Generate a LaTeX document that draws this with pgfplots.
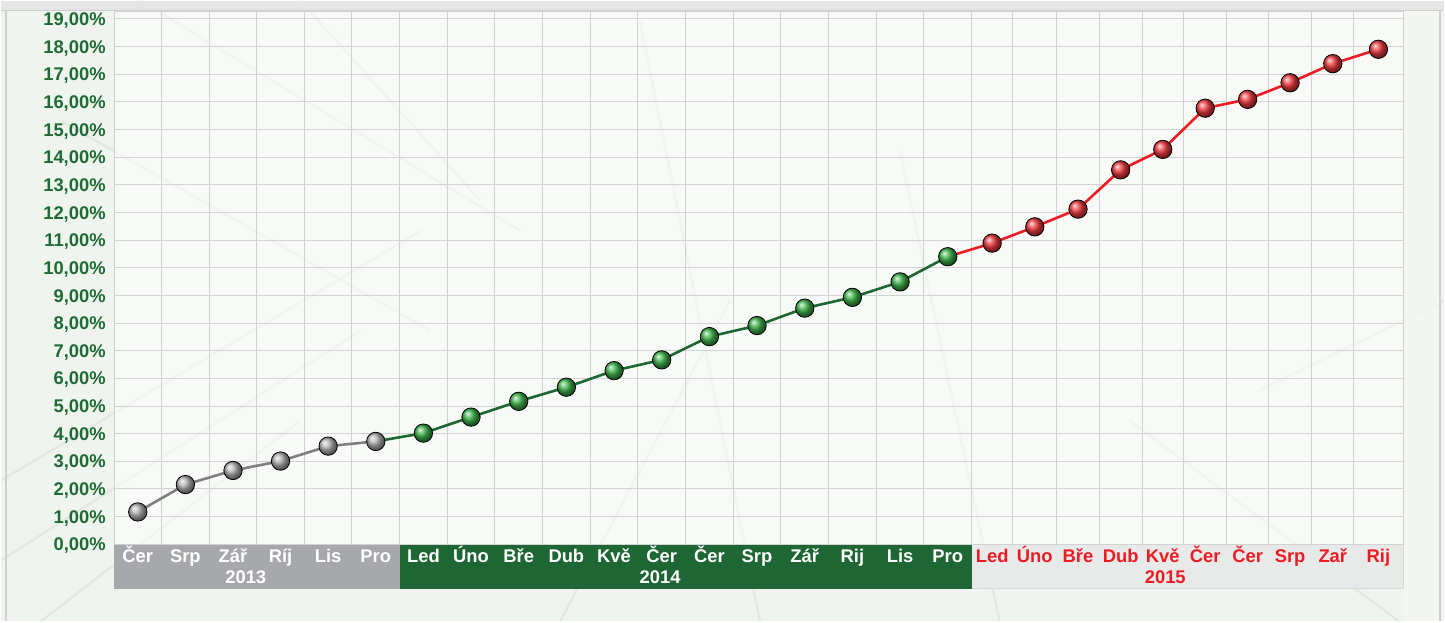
\documentclass[border=0pt]{standalone}
\usepackage{pgfplots}
\pgfplotsset{compat=1.18}
\usepackage{fontspec}
\setmainfont{Liberation Sans}
\definecolor{bgc}{HTML}{F0F4EE}
\definecolor{gridc}{HTML}{D2D2D2}
\definecolor{lblgreen}{HTML}{1E6B36}
\definecolor{bandgray}{HTML}{A7A8AC}
\definecolor{bandgreen}{HTML}{1E6633}
\definecolor{bandlight}{HTML}{E8E9E9}
\definecolor{linegray}{HTML}{7F7F7F}
\definecolor{linegreen}{HTML}{1E6633}
\definecolor{linered}{HTML}{ED1C24}
\definecolor{ballgray}{HTML}{B4B4B4}
\definecolor{ballgreen}{HTML}{3DB34A}
\definecolor{ballred}{HTML}{F03A3F}
\definecolor{texc}{HTML}{D9DFD6}
\definecolor{topstrip}{HTML}{E4E5E4}
\definecolor{framec}{HTML}{CFCFCF}
\definecolor{rightpane}{HTML}{F6F8F5}
\definecolor{bandedge}{HTML}{D6D6D6}
\begin{document}
\begin{tikzpicture}
\begin{scope}[x=0.5pt,y=-0.5pt,shift={(0pt,310.5pt)}]
  \fill[bgc] (0,0) rectangle (1445,621);
  % faint background texture
  \begin{scope}[draw=texc, line width=1.2pt, opacity=0.55]
    \draw (140,0) -- (520,230);
    \draw (60,120) -- (430,330);
    \draw (0,480) -- (420,230);
    \draw (0,560) -- (360,330);
    \draw (300,0) -- (480,200);
    \draw (640,20) -- (760,621);
    \draw (730,300) -- (560,621);
    \draw (900,150) -- (1000,621);
    \draw (1260,390) -- (1445,300);
    \draw (1130,420) -- (1400,621);
    \draw (40,621) -- (300,420);
  \end{scope}
  \fill[topstrip] (0,0) rectangle (1445,9);
  \draw[framec, line width=0.6pt] (0,9) -- (1445,9);
  \draw[framec, line width=0.8pt] (5,9) -- (5,621);
  \fill[rightpane, opacity=0.7] (1405,10) rectangle (1441,621);
  \draw[framec, line width=0.8pt] (1441,9) -- (1441,621);
  % category bands
  \fill[bandgray] (113,544) rectangle (399,588.3);
  \fill[bandgreen] (399,544) rectangle (972,588.3);
  \fill[bandlight] (972,544) rectangle (1405,588.3);
  \draw[bandedge, line width=0.5pt] (972,588.3) -- (1405,588.3) -- (1405,544);
\end{scope}
\begin{axis}[
  at={(56.5pt,38.5pt)}, anchor=south west,
  scale only axis, width=646pt, height=267pt,
  xmin=113, xmax=1405, ymin=0, ymax=19.278,
  clip=false,
  axis background/.style={fill=white, fill opacity=0.55},
  axis line style={draw=gridc, line width=0.5pt},
  grid style={draw=gridc, line width=0.5pt},
  minor grid style={draw=gridc, line width=0.5pt},
  ymajorgrids, xminorgrids,
  major tick length=0pt, minor tick length=0pt,
  tick style={draw=none},
  ytick={0,1,...,19},
  yticklabel={\pgfmathprintnumber[fixed,fixed zerofill,precision=2,use comma,assume math mode=true]{\tick}\%},
  tick label style={font=\fontsize{9.2pt}{11pt}\selectfont\bfseries, inner sep=0pt},
  yticklabel style={text=lblgreen, anchor=base east, xshift=-4pt, yshift=-3.3pt},
  xticklabel style={anchor=base, yshift=-9pt},
  xtick={136.8,184.5,232.2,279.8,327.5,375.2,
         422.9,470.6,518.4,566.1,613.9,661.6,709.4,757.1,804.9,852.6,900.4,948.1,
         992.6,1035.3,1078.6,1121.3,1163.5,1206,1248.5,1291,1333.8,1379.5},
  xticklabels={\textcolor{white}{Čer},\textcolor{white}{Srp},\textcolor{white}{Zář},\textcolor{white}{Ríj},\textcolor{white}{Lis},\textcolor{white}{Pro},
    \textcolor{white}{Led},\textcolor{white}{Úno},\textcolor{white}{Bře},\textcolor{white}{Dub},\textcolor{white}{Kvě},\textcolor{white}{Čer},\textcolor{white}{Čer},\textcolor{white}{Srp},\textcolor{white}{Zář},\textcolor{white}{Rij},\textcolor{white}{Lis},\textcolor{white}{Pro},
    \textcolor{linered}{Led},\textcolor{linered}{Úno},\textcolor{linered}{Bře},\textcolor{linered}{Dub},\textcolor{linered}{Kvě},\textcolor{linered}{Čer},\textcolor{linered}{Čer},\textcolor{linered}{Srp},\textcolor{linered}{Zař},\textcolor{linered}{Rij}},
  minor xtick={160.7,208.3,256,303.7,351.3,399,446.7,494.5,542.2,590,637.7,685.5,733.2,781,828.7,876.5,924.2,972,1013.3,1057.3,1100,1142.7,1184.3,1227.7,1269.3,1312.7,1355},
]
\node[font=\fontsize{9.2pt}{11pt}\selectfont\bfseries, text=white, anchor=base, inner sep=0pt] at (axis cs:245,-1.42) {2013};
\node[font=\fontsize{9.2pt}{11pt}\selectfont\bfseries, text=white, anchor=base, inner sep=0pt] at (axis cs:660,-1.42) {2014};
\node[font=\fontsize{9.2pt}{11pt}\selectfont\bfseries, text=linered, anchor=base, inner sep=0pt] at (axis cs:1166,-1.42) {2015};
% lines
\addplot[linegray, line width=1.3pt] coordinates {
(136.8,1.17) (184.5,2.16) (232.2,2.67) (279.8,3.01) (327.5,3.55) (375.2,3.72)};
\addplot[linegreen, line width=1.3pt] coordinates {
(375.2,3.72) (422.9,4.02) (470.6,4.60) (518.4,5.17) (566.1,5.68) (613.9,6.28) (661.6,6.67)
(709.4,7.51) (757.1,7.91) (804.9,8.54) (852.6,8.93) (900.4,9.49) (948.1,10.40)};
\addplot[linered, line width=1.3pt] coordinates {
(948.1,10.40) (992.6,10.89) (1035.3,11.48) (1078.6,12.12) (1121.3,13.54) (1163.5,14.28)
(1206,15.77) (1248.5,16.09) (1291,16.69) (1333.8,17.38) (1379.5,17.90)};
% markers
\addplot[only marks, mark=ball, mark size=4.6pt, mark options={ball color=ballgray}] coordinates {
(136.8,1.17) (184.5,2.16) (232.2,2.67) (279.8,3.01) (327.5,3.55) (375.2,3.72)};
\addplot[only marks, mark=ball, mark size=4.6pt, mark options={ball color=ballgreen}] coordinates {
(422.9,4.02) (470.6,4.60) (518.4,5.17) (566.1,5.68) (613.9,6.28) (661.6,6.67)
(709.4,7.51) (757.1,7.91) (804.9,8.54) (852.6,8.93) (900.4,9.49) (948.1,10.40)};
\addplot[only marks, mark=ball, mark size=4.6pt, mark options={ball color=ballred}] coordinates {
(992.6,10.89) (1035.3,11.48) (1078.6,12.12) (1121.3,13.54) (1163.5,14.28)
(1206,15.77) (1248.5,16.09) (1291,16.69) (1333.8,17.38) (1379.5,17.90)};
\end{axis}
\end{tikzpicture}
\end{document}
